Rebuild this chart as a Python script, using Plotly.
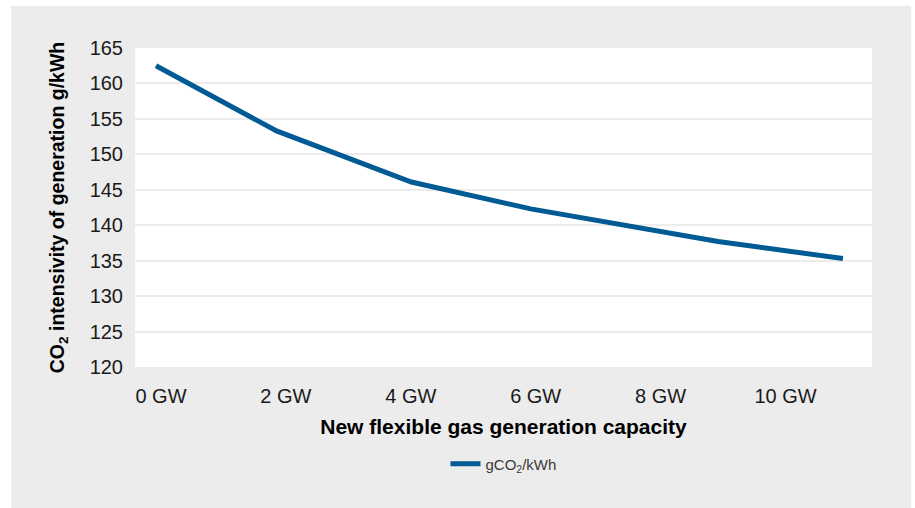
import plotly.graph_objects as go

# New flexible gas capacity (GW) and the resulting CO2 intensity (g/kWh)
capacity_gw = [0, 1.93, 4.09, 6.0, 9.0, 11.0]
intensity = [162.5, 153.3, 146.1, 142.3, 137.7, 135.3]

tick_vals = [0, 2, 4, 6, 8, 10]
tick_text = ["0 GW", "2 GW", "4 GW", "6 GW", "8 GW", "10 GW"]

y_ticks = list(range(120, 166, 5))

BLUE = "#005a93"
PANEL = "#ececec"
TEXT = "#1a1a1a"
FONT = "Liberation Sans, Arial, sans-serif"

fig = go.Figure()
fig.add_trace(go.Scatter(
    x=capacity_gw, y=intensity, mode="lines",
    line=dict(color=BLUE, width=5),
    name="gCO<sub>2</sub>/kWh",
))

fig.update_layout(
    width=915, height=508,
    margin=dict(l=135, r=43, t=48, b=141),
    paper_bgcolor="white",
    plot_bgcolor="white",
    font=dict(family=FONT, color=TEXT, size=20),
    showlegend=True,
    legend=dict(
        orientation="h", x=0.5, xanchor="center", y=-0.304, yanchor="middle",
        font=dict(size=15, color="#3a3a3a"), bgcolor="rgba(0,0,0,0)",
    ),
    shapes=[
        # grey panel behind the chart
        dict(type="rect", xref="paper", yref="paper", layer="below",
             x0=-124 / 737, x1=(911 - 135) / 737, y0=-141 / 319, y1=(367 - 6) / 319,
             fillcolor=PANEL, line=dict(width=0)),
        # white plotting area
        dict(type="rect", xref="paper", yref="paper", layer="below",
             x0=0, x1=1, y0=0, y1=1, fillcolor="white", line=dict(width=0)),
    ],
)

fig.update_xaxes(
    range=[-0.336, 11.465], tickvals=tick_vals, ticktext=tick_text,
    showgrid=False, zeroline=False, showline=False,
    ticks="outside", ticklen=11, tickcolor="rgba(0,0,0,0)",
    ticklabelshift=5,
    tickfont=dict(size=20, color=TEXT),
    title=dict(text="<b>New flexible gas generation capacity</b>",
               font=dict(size=21, color="black"), standoff=13),
)
fig.update_yaxes(
    range=[120, 165], tickvals=y_ticks,
    showgrid=True, gridcolor=PANEL, gridwidth=2,
    zeroline=False, showline=False,
    ticks="outside", ticklen=7, tickcolor="rgba(0,0,0,0)",
    tickfont=dict(size=20, color=TEXT),
    title=dict(text="<b>CO<sub>2</sub> intensivity of generation g/kWh</b>",
               font=dict(size=19.5, color="black"), standoff=19),
)

fig.write_html("out.html")
